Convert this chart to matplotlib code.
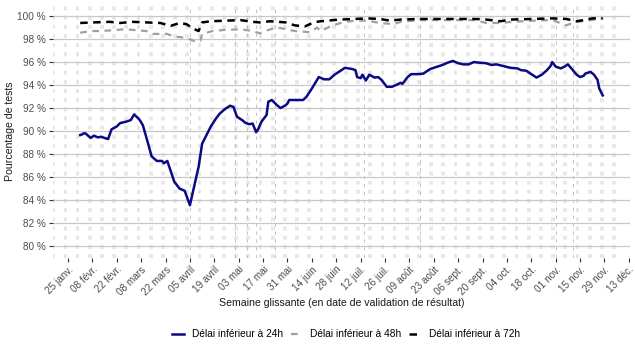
import numpy as np
import pandas as pd
import matplotlib
matplotlib.use('Agg')
import matplotlib.pyplot as plt

plt.rcParams['font.family'] = ['Liberation Sans', 'DejaVu Sans']

debut = pd.Timestamp('2021-01-25')

# jours depuis le 25 janv. 2021
jours_24h = [7, 8, 9, 10, 13, 15, 17, 19, 23, 25, 28, 30, 33, 36, 38, 41, 43, 46, 48, 51,
             54, 55, 57, 59, 61, 64, 67, 70, 72, 75, 77, 80, 82, 85, 87, 90, 93, 95, 97, 100,
             102, 104, 106, 108, 109, 111, 114, 115, 117, 119, 120, 122, 125, 126, 127, 130, 135, 137, 140, 144,
             147, 150, 153, 156, 159, 163, 165, 166, 168, 169, 171, 173, 176, 178, 180, 183, 186, 189, 191, 192,
             195, 197, 201, 204, 208, 212, 215, 218, 221, 224, 227, 230, 233, 236, 240, 243, 246, 250, 254, 258,
             260, 263, 266, 269, 272, 275, 277, 278, 280, 283, 285, 287, 289, 292, 294, 296, 297, 300, 302, 304,
             305, 307]
val_24h = [89.65, 89.7, 89.8, 89.8, 89.4, 89.6, 89.45, 89.5, 89.3, 90.15, 90.4, 90.7, 90.8, 90.95, 91.45, 91.0, 90.5, 88.9, 87.8, 87.4,
           87.4, 87.2, 87.4, 86.5, 85.6, 85.0, 84.8, 83.55, 84.9, 86.9, 88.9, 89.8, 90.4, 91.1, 91.5, 91.9, 92.2, 92.1, 91.25, 90.95,
           90.7, 90.6, 90.65, 89.9, 90.1, 90.8, 91.4, 92.55, 92.7, 92.4, 92.25, 92.0, 92.25, 92.4, 92.7, 92.7, 92.7, 93.0, 93.7, 94.7,
           94.5, 94.5, 94.9, 95.2, 95.5, 95.4, 95.3, 94.7, 94.6, 94.9, 94.4, 94.9, 94.65, 94.7, 94.45, 93.85, 93.85, 94.05, 94.2, 94.1,
           94.7, 94.95, 94.95, 95.0, 95.4, 95.6, 95.75, 95.95, 96.1, 95.9, 95.8, 95.8, 96.0, 95.95, 95.9, 95.75, 95.8, 95.65, 95.5, 95.45,
           95.3, 95.25, 94.95, 94.65, 94.9, 95.3, 95.65, 96.0, 95.6, 95.45, 95.6, 95.8, 95.45, 94.9, 94.7, 94.8, 95.0, 95.15, 94.9, 94.45,
           93.7, 93.1]

jours_48h = [7, 13, 18, 24, 32, 37, 45, 49, 57, 60, 68, 73, 76, 77, 83, 90, 99, 106, 110, 114,
             120, 126, 130, 139, 143, 145, 152, 159, 165, 172, 179, 187, 191, 202, 214, 225, 234, 240, 248, 255,
             267, 278, 286, 292, 298, 307]
val_48h = [98.55, 98.7, 98.7, 98.75, 98.85, 98.8, 98.7, 98.45, 98.45, 98.25, 98.1, 97.8, 97.85, 98.45, 98.7, 98.8, 98.85, 98.7, 98.5, 98.75,
           99.0, 98.85, 98.7, 98.6, 99.0, 98.7, 99.2, 99.5, 99.6, 99.6, 99.4, 99.3, 99.5, 99.65, 99.65, 99.65, 99.65, 99.4, 99.4, 99.5,
           99.6, 99.65, 99.2, 99.5, 99.6, 99.8]

jours_72h = [7, 15, 24, 30, 37, 45, 53, 59, 64, 68, 72, 75, 77, 82, 90, 99, 106, 110, 116, 125,
             130, 136, 141, 145, 156, 165, 172, 179, 185, 191, 202, 214, 225, 234, 240, 248, 255, 267, 278, 286,
             292, 298, 301, 307]
val_72h = [99.4, 99.45, 99.5, 99.4, 99.5, 99.45, 99.4, 99.15, 99.4, 99.3, 98.9, 98.7, 99.45, 99.55, 99.6, 99.65, 99.5, 99.45, 99.55, 99.45,
           99.2, 99.1, 99.45, 99.55, 99.7, 99.75, 99.8, 99.75, 99.6, 99.7, 99.75, 99.75, 99.75, 99.75, 99.7, 99.55, 99.7, 99.75, 99.8, 99.75,
           99.55, 99.7, 99.8, 99.8]

etiquettes = ['25 janv.', '08 févr.', '22 févr.', '08 mars', '22 mars', '05 avril', '19 avril', '03 mai',
              '17 mai', '31 mai', '14 juin', '28 juin', '12 juil.', '26 juil.', '09 août', '23 août',
              '06 sept.', '20 sept.', '04 oct.', '18 oct.', '01 nov.', '15 nov.', '29 nov.', '13 déc.']

feries = ['2021-04-05', '2021-05-01', '2021-05-08', '2021-05-13', '2021-05-24',
          '2021-07-14', '2021-08-15', '2021-11-01', '2021-11-11']

jours_cal = pd.date_range('2021-01-17', '2021-12-05')
week_ends = [(d - debut).days for d in jours_cal if d.dayofweek >= 5]
jours_feries = [(pd.Timestamp(d) - debut).days for d in feries]

fig = plt.figure(figsize=(6.35, 3.53), dpi=100)
ax = fig.add_axes([0.0835, 0.2705, 0.9085, 0.7165])

for j in week_ends:
    ax.axvline(j, color='#e2e2e2', lw=1.1, ls=(0, (2.6, 3.4)), zorder=0)
for j in jours_feries:
    ax.axvline(j, color='#b8b8b8', lw=0.6, ls=(0, (4, 5.5)), zorder=0.5)

for v in range(80, 101, 2):
    ax.axhline(v, color='#c8c8c8', lw=0.9, zorder=1)

ax.plot(jours_24h, val_24h, color='#0a0a85', lw=1.8, label='Délai inférieur à 24h', zorder=3)
ax.plot(jours_48h, val_48h, color='#a0a0a0', lw=1.6, ls=(0, (3, 2.5)), label='Délai inférieur à 48h', zorder=3)
ax.plot(jours_72h, val_72h, color='black', lw=1.8, ls=(0, (3, 2.2)), label='Délai inférieur à 72h', zorder=4)

ax.set_xlim(-8.6, 322.6)
ax.set_ylim(79, 101)
ax.set_xticks(np.arange(0, 14 * len(etiquettes), 14))
ax.set_xticklabels(etiquettes, rotation=45, ha='right', rotation_mode='anchor')
ax.set_yticks(range(80, 101, 2))
ax.set_yticklabels([f'{v} %' for v in range(80, 101, 2)])
ax.tick_params(axis='both', length=3, width=0.8, color='#333333', labelcolor='#4d4d4d', labelsize=7.2, pad=2)
for s in ax.spines.values():
    s.set_visible(False)

ax.set_xlabel('Semaine glissante (en date de validation de résultat)', fontsize=7.6, color='#1a1a1a', labelpad=1)
ax.set_ylabel('Pourcentage de tests', fontsize=7.6, color='#1a1a1a', labelpad=2)

fig.legend(loc='center', bbox_to_anchor=(0.545, 0.053), ncol=3, frameon=False, fontsize=7.3,
           handlelength=1.2, columnspacing=0.8, handletextpad=0.7)

fig.savefig('out.png', dpi=100)
